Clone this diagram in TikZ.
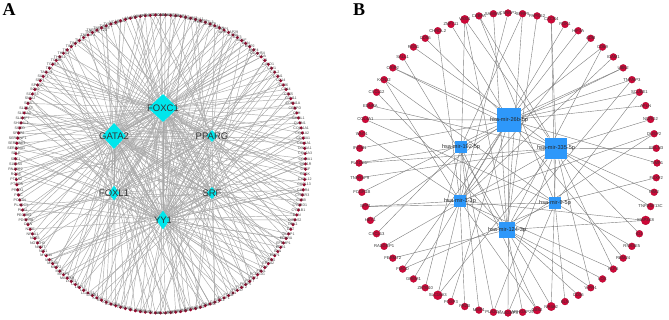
\documentclass[tikz,border=0pt]{standalone}
\usepackage{fontspec}
\setmainfont{Liberation Serif}
\newfontfamily\netfont{Liberation Sans}
\usetikzlibrary{shapes.geometric,backgrounds}
\definecolor{genered}{RGB}{158,0,42}
\definecolor{genepink}{RGB}{206,8,56}
\definecolor{tfcyan}{RGB}{0,230,236}
\definecolor{mirblue}{RGB}{46,152,250}
\definecolor{edgelight}{RGB}{168,168,168}
\definecolor{edgedark}{RGB}{125,125,125}
\tikzset{
  gene/.style={circle, fill=genered, inner sep=0pt, minimum size=3.4pt},
  genetext/.style={font=\netfont\fontsize{3.6}{4}\selectfont, text=black!75, inner sep=0pt},
  target/.style={circle, fill=genepink, draw=genepink!80!black, line width=0.2pt, inner sep=0pt},
  targettext/.style={font=\netfont\fontsize{4.2}{5}\selectfont, text=black!80, inner sep=0pt},
  tfbox/.style={diamond, fill=tfcyan, inner sep=0pt},
  tftext/.style={font=\netfont\fontsize{9.5}{10}\selectfont, text=black!80},
  mirbox/.style={rectangle, fill=mirblue, inner sep=0pt},
  mirtext/.style={font=\netfont\fontsize{5.6}{6}\selectfont, text=black!85},
  tfedge/.style={edgelight, line width=0.45pt},
  miredge/.style={edgedark, line width=0.4pt},
  panel/.style={font=\bfseries\fontsize{18}{18}\selectfont}
}
\begin{document}
\begin{tikzpicture}[x=1pt, y=-1pt]
  \useasboundingbox (0,0) rectangle (669,320);
  % Panel letters
  \node[panel] (pa) at (9,10) {A};
  \node[panel] (pb) at (359,10) {B};
  %% ---------------- Panel A: transcription factors ----------------
  \node[tfbox, minimum width=30pt, minimum height=28pt] (t0) at (163,108) {};
  \node[tfbox, minimum width=24pt, minimum height=26pt] (t1) at (114,136) {};
  \node[tfbox, minimum width=11pt, minimum height=12pt] (t2) at (212,136) {};
  \node[tfbox, minimum width=11pt, minimum height=15pt] (t3) at (114,193) {};
  \node[tfbox, minimum width=11pt, minimum height=12pt] (t4) at (212,193) {};
  \node[tfbox, minimum width=14pt, minimum height=19pt] (t5) at (163,220) {};
  \node[tftext] at (t0) {FOXC1};
  \node[tftext] at (t1) {GATA2};
  \node[tftext] at (t2) {PPARG};
  \node[tftext] at (t3) {FOXL1};
  \node[tftext] at (t4) {SRF};
  \node[tftext] at (t5) {YY1};
  % Ring of target genes
  \foreach \g [count=\i from 0] in {ACTA2,ADAM8,ADAMTS1,ADM,AEBP1,AGT,AKAP12,ALDH1A1,ANGPT2,ANGPTL3,
      ANPEP,ANXA1,APLN,AQP1,ARHGAP29,ASPN,ATF3,BDNF,BGN,BMP2,
      BMP4,C10orf54,C1QA,C3,CALD1,CAV1,CCL2,CCN1,CD14,CD36,
      CD44,CD55,CDH11,CDKN1A,CEBPD,CFH,CHI3L1,CLDN1,COL11A1,COL1A2,
      COL3A1,COL4A1,COL5A1,COL6A3,COL8A1,CSF1R,CTGF,CTSK,CXCL12,CXCL13,
      CXCR4,CYB5R3,CYBB,CYBRD1,CYP1B1,DCN,DIRAS2,DKK1,DPT,DUSP1,
      EDNRA,EFEMP1,EGR1,ELN,EMP1,ENG,EPHA2,FAP,FBN1,FCER1G,
      FGF2,FGF7,FKBP5,FLRT2,FMOD,FN1,FOSB,FOXF1,FSTL1,GAS1,
      GATA6,GEM,GJA1,GPX3,GREM1,HAS2,HBEGF,HEY1,HGF,HLA-DRA,
      HMOX1,ICAM1,ID1,IGFBP3,IGFBP5,IL1R1,IL6,ITGA5,ITGB2,JUNB,
      KCNJ2,KDR,KLF2,KLF4,LAMB1,LGALS1,LOX,LRP1,LUM,LYVE1,
      MAP3K8,MFAP5,MGP,MMP2,MSMB,MYC,MYH11,NID1,NNMT,NOTCH3,
      NPR3,NR4A1,NT5E,OGN,PDGFRB,PECAM1,PLAU,PLXDC1,POSTN,PPIC,
      PRRX1,PTGDS,PTGS2,RGS5,RNASE2,S100A4,SDC1,SELE,SERPINA1,SERPINE1,
      SERPINF1,SFRP2,SGCD,SHISAL1,SLAMF7,SLC2A3,SLC9A7,SMS,SNAI2,SOCS3,
      SOX9,SPARC,SPP1,SULF1,TAGLN,TEK,TGFB3,TGFBI,THBS1,THBS2,
      THY1,TIMP1,TIMP3,TLR4,TNC,TNFAIP3,TNFAIP6,TNFRSF12A,TNFRSF8,TWIST1,
      TYROBP,VCAM1,VCAN,VIM,VWA1,VWF,WISP1,ZFP36,ZNF423,ZEB2} {
    \pgfmathsetmacro{\ang}{-90+2*\i}
    \node[gene] (a\i) at ({160.5+145*cos(\ang)},{164+149*sin(\ang)}) {};
    \node[genetext] at (a\i) {\g};
  }
  % Regulatory edges of panel A
  \begin{pgfonlayer}{background}
    \foreach \i in {0,...,179} {
      \pgfmathtruncatemacro{\ta}{{0,1,5,0,3,1,0,4,5,1,0,2}[mod(\i,12)]}
      \pgfmathtruncatemacro{\tb}{{1,0,5,2,0,1,3,5,0,4,1}[mod(\i*7,11)]}
      \draw[tfedge] (a\i) -- (t\ta);
      \ifnum\ta=\tb\else\draw[tfedge] (a\i) -- (t\tb);\fi
      \ifnum\i<90\pgfmathtruncatemacro{\tc}{mod(\i,5)}\ifnum\tc=0\draw[tfedge] (a\i) -- (t5);\fi\fi
    }
    \foreach \u/\v in {0/1,0/5,0/2,1/3,1/5,1/4,3/5,4/5,2/3,0/4}
      \draw[tfedge, line width=0.7pt] (t\u) -- (t\v);
  \end{pgfonlayer}
  %% ---------------- Panel B: miRNAs ----------------
  \node[mirbox, minimum size=23.5pt] (m0) at (509,120) {};
  \node[mirbox, minimum size=21.7pt] (m1) at (556,148.5) {};
  \node[mirbox, minimum size=11.8pt] (m2) at (461,146.7) {};
  \node[mirbox, minimum size=12pt] (m3) at (460,201) {};
  \node[mirbox, minimum size=12pt] (m4) at (555,203) {};
  \node[mirbox, minimum size=15.8pt] (m5) at (507,229.7) {};
  \node[mirtext] at (m0) {hsa-mir-26b-5p};
  \node[mirtext] at (m1) {hsa-mir-335-5p};
  \node[mirtext] at (m2) {hsa-mir-192-5p};
  \node[mirtext] at (m3) {hsa-mir-1-3p};
  \node[mirtext] at (m4) {hsa-mir-9-5p};
  \node[mirtext] at (m5) {hsa-mir-124-3p};
  % Ring of target mRNAs
  \foreach \g/\s [count=\i from 0] in {CSRNP1/7,SFRP5/7,PAPSS2/7,CXCR4/8,PGK1/7,HIF3A/7,ADM/7,CD69/7,
      ICAM1/7,UBN2/7,TNFAIP3/7,SCUBE1/7,APLN/7,NDRG2/7,DUSP2/7,EGLN3/7,
      TIMP1/7,FOXF2/7,PIM2/7,TNFRSF13C/7,MAP3K8/9,ID1/7,RNASE5/7,RBM24/7,
      KLF6/7,LOX/7,VIPR1/7,CD36/7,ELN/7,NR4A2/8.5,G0S2/8,ARHGAP29/7,
      RASGRP3/7,PLA2G7/7,MMP1/7,FRZB/7,FOXP3/7,SLC16A3/9,ZBTB10/7,GREM1/7,
      FMOD/7,FERMT2/7,RASGRP1/7,CXCL13/7,HEY1/7,SPP1/7,FCGR1B/7,TNFRSF9/7,
      PLXDC1/7,IFITM1/7,WNT1/7,COL4A1/7,EDNRA/7,CXCL12/7,KCNJ2/7,CRIP2/7,
      SALL1/7,RGS1/7,CD55/7,CHRDL2/7,ZNF711/7,VASN/8.5,CEBPA/7,SAMSN1/7} {
    \pgfmathsetmacro{\ang}{-90+5.625*\i}
    \node[target, minimum size=\s pt] (b\i) at ({508+149*cos(\ang)},{163+150*sin(\ang)}) {};
    \node[targettext] at (b\i) {\g};
  }
  % Targeting edges of panel B
  \begin{pgfonlayer}{background}
    \foreach \i/\m in {0/3,1/2,1/5,2/5,3/4,4/3,5/0,6/3,7/5,7/0,8/3,9/0,10/0,10/5,11/0,11/4,
        12/0,13/1,14/3,15/1,16/0,17/4,18/1,19/1,20/5,20/3,21/1,22/4,23/0,24/1,24/3,
        25/5,26/1,27/5,28/4,29/1,29/5,30/3,30/2,31/5,32/0,32/4,33/1,33/2,34/2,35/3,
        36/0,37/3,37/1,38/2,39/0,40/4,41/5,42/1,43/2,44/0,45/3,45/4,46/0,47/1,
        48/2,48/1,49/0,50/5,51/0,52/1,53/5,54/3,54/4,55/0,55/1,56/5,57/1,58/0,
        59/3,60/0,61/3,61/5,61/1,62/1,62/4,63/5,3/1,26/5,40/0,9/2,14/5,51/4}
      \draw[miredge] (b\i) -- (m\m);
  \end{pgfonlayer}
\end{tikzpicture}
\end{document}
